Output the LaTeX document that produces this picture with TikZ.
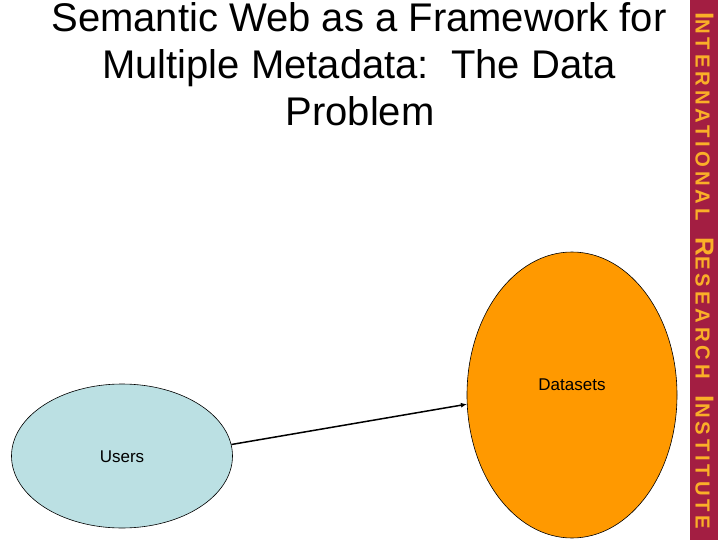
\documentclass[tikz,border=0pt]{standalone}
\usepackage{fontspec}
\setmainfont{Liberation Sans}
\newfontfamily\barfont[LetterSpace=19]{Liberation Sans Bold}
\usetikzlibrary{shapes.geometric,arrows.meta}
\definecolor{usersblue}{RGB}{187,224,227}
\definecolor{dataorange}{RGB}{255,153,0}
\definecolor{barmaroon}{RGB}{163,30,66}
\definecolor{bartext}{RGB}{250,175,40}
\newcommand{\smc}[1]{{\fontsize{20.3}{20.3}\selectfont #1}}
\tikzset{
  titleline/.style={anchor=base, inner sep=0pt, font=\fontsize{40}{47}\selectfont},
  blob/.style={ellipse, draw=black, line width=0.6pt, inner sep=0pt},
  blobtext/.style={inner sep=0pt, font=\fontsize{17}{20}\selectfont},
  link/.style={line width=1.5pt, -{Latex[length=6pt,width=5pt]}}
}
\begin{document}
\begin{tikzpicture}[x=1pt,y=-1pt]
\useasboundingbox (0,0) rectangle (720,540);
\fill[white] (0,0) rectangle (720,540);
% side bar
\fill[barmaroon] (690,0) rectangle (718,540);
\node[anchor=base west, rotate=-90, inner sep=0pt, text=bartext] (barlabel) at (695.5,12)
 {\barfont\fontsize{26}{26}\selectfont I\smc{NTERNATIONAL}\hspace{5pt} R\smc{ESEARCH}\hspace{5pt} I\smc{NSTITUTE}};
% title
\node[titleline] (t1) at (359,32) {Semantic Web as a Framework for};
\node[titleline] (t2) at (359,79) {Multiple Metadata:\ \ The Data};
\node[titleline] (t3) at (360,126) {Problem};
% ellipses
\node[blob, fill=usersblue, minimum width=221pt, minimum height=144pt] (users) at (122,456) {};
\node[blobtext] (userslabel) at (122,457) {Users};
\node[blob, fill=dataorange, minimum width=210pt, minimum height=286pt] (datasets) at (572,395) {};
\node[blobtext] (datalabel) at (572,385) {Datasets};
% connector
\draw[link] (users.6) -- (datasets.185);
\end{tikzpicture}
\end{document}
